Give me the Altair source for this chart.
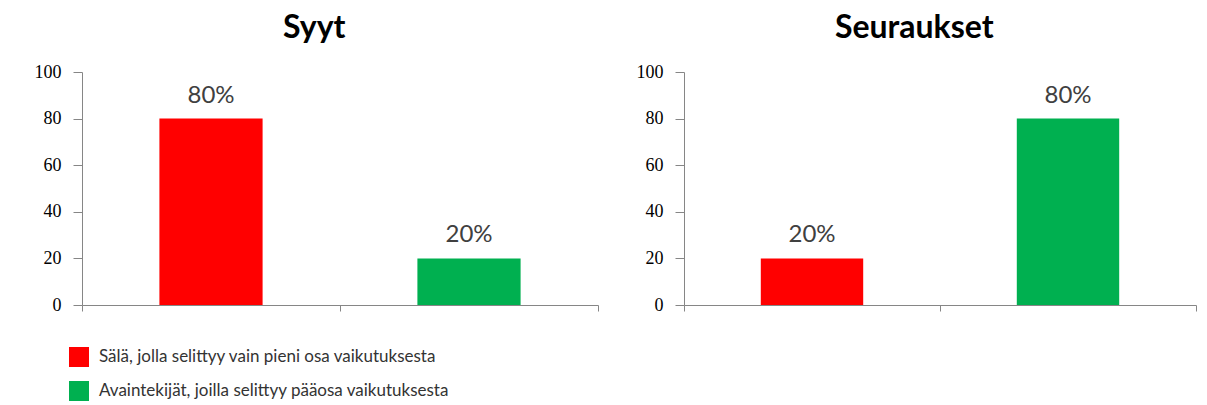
import altair as alt
import pandas as pd

categories = [
    "Sälä, jolla selittyy vain pieni osa vaikutuksesta",
    "Avaintekijät, joilla selittyy pääosa  vaikutuksesta",
]
colors = ["#FF0000", "#00B050"]
panel_titles = ["Syyt", "Seuraukset"]
syyt_values = [80, 20]
seuraukset_values = [20, 80]
y_ticks = [0, 20, 40, 60, 80, 100]

FONT = "Lato"
TICKFONT = "Liberation Serif"
AX = "#868686"


def panel(title, values, width, show_legend):
    df = pd.DataFrame({"cat": categories, "value": values})
    base = alt.Chart(df).encode(
        x=alt.X(
            "cat:N",
            sort=categories,
            scale=alt.Scale(paddingInner=0, paddingOuter=0),
            axis=alt.Axis(
                title=None, labels=False, tickBand="extent", ticks=True,
                tickSize=6, domainColor=AX, tickColor=AX, grid=False,
            ),
        ),
        y=alt.Y(
            "value:Q",
            scale=alt.Scale(domain=[0, 100]),
            axis=alt.Axis(
                title=None, values=y_ticks, grid=False, tickSize=9,
                domainColor=AX, tickColor=AX, labelFont=TICKFONT, labelFontSize=18,
                labelColor="#000000", labelPadding=12, minExtent=74, maxExtent=74,
            ),
        ),
    )
    if show_legend:
        legend = alt.Legend(
            title=None, orient="none", legendX=-13, legendY=275, direction="vertical",
            symbolType="square", symbolSize=400, symbolStrokeWidth=0, symbolOpacity=1,
            labelFont=FONT, labelFontSize=17, labelColor="#333333", rowPadding=14,
            labelLimit=600, labelOffset=10,
        )
    else:
        legend = None
    bars = base.mark_bar(width={"band": 0.4}).encode(
        color=alt.Color(
            "cat:N",
            scale=alt.Scale(domain=categories, range=colors),
            sort=categories,
            legend=legend,
        )
    )
    text = base.transform_calculate(label="datum.value + '%'").mark_text(
        dy=-23, fontSize=24, color="#404040", font=FONT
    ).encode(text="label:N")
    return alt.layer(bars, text).properties(
        width=width,
        height=233,
        title=alt.TitleParams(
            title, font=FONT, fontSize=32, fontWeight="bold", color="#000000",
            anchor="middle", frame="bounds", dx=11, offset=18,
        ),
    )


left = panel(panel_titles[0], syyt_values, 516, True)
right = panel(panel_titles[1], seuraukset_values, 512, False)

chart = (
    alt.hconcat(left, right, spacing=11)
    .properties(padding={"top": 4, "left": 0, "right": 0, "bottom": 0})
    .configure_view(stroke=None)
)

chart.save("out.html", embed_options={"renderer": "svg", "actions": False})
